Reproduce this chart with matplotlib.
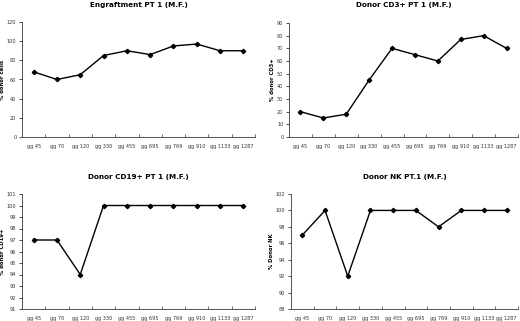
import matplotlib.pyplot as plt
import numpy as np

# ---------------------------------------Datos---------------------------------------
giorni = ["gg 45", "gg 70", "gg 120", "gg 330", "gg 455", "gg 695", "gg 769", "gg 910", "gg 1133", "gg 1287"]

engraftment = [68, 60, 65, 85, 90, 86, 95, 97, 90, 90]
cd3 = [20, 15, 18, 45, 70, 65, 60, 77, 80, 70]
cd19 = [97, 97, 94, 100, 100, 100, 100, 100, 100, 100]
nk = [97, 100, 92, 100, 100, 100, 98, 100, 100, 100]

W, H = 520, 321

pannelli = [
    # (titolo, ylabel, dati, ylim, step, box pixel: left, right, top, bottom)
    ("Engraftment PT 1 (M.F.)", "% donor cells", engraftment, (0, 120), 20, (22, 255, 22, 137)),
    ("Donor CD3+ PT 1 (M.F.)", "% donor CD3+", cd3, (0, 90), 10, (289, 518, 23, 137)),
    ("Donor CD19+ PT 1 (M.F.)", "% donor CD19+", cd19, (91, 101), 1, (22, 255, 194, 309)),
    ("Donor NK PT.1 (M.F.)", "% Donor NK", nk, (88, 102), 2, (291, 518, 194, 309)),
]

fig = plt.figure(figsize=(W / 100, H / 100), dpi=100)
fig.patch.set_facecolor("white")

for titolo, ylab, dati, ylim, step, (l, r, t, b) in pannelli:
    ax = fig.add_axes([l / W, 1 - b / H, (r - l) / W, (b - t) / H])
    x = np.arange(len(giorni))
    ax.plot(x, dati, color="black", lw=1.0, marker="D", ms=2.2, mfc="black", mec="black")
    ax.set_xlim(-0.5, len(giorni) - 0.5)
    ax.set_ylim(*ylim)
    ax.set_yticks(np.arange(ylim[0], ylim[1] + step / 2, step))
    ax.set_xticks(x)
    ax.set_xticklabels(giorni)
    ax.set_xticks(np.arange(len(giorni) + 1) - 0.5, minor=True)
    ax.tick_params(axis="x", which="major", length=0, labelsize=3.6, pad=5, colors="#333333")
    ax.tick_params(axis="x", which="minor", length=2, width=0.6, direction="in", color="#555555")
    ax.tick_params(axis="y", length=2, width=0.6, labelsize=3.6, pad=2, colors="#333333")
    for lato in ["top", "right"]:
        ax.spines[lato].set_visible(False)
    for lato in ["left", "bottom"]:
        ax.spines[lato].set_linewidth(0.7)
        ax.spines[lato].set_color("#555555")
    ax.set_ylabel(ylab, fontsize=3.8, fontweight="bold", labelpad=1.5)
    fig.text((l + r) / 2 / W, 1 - (t - 17.5) / H, titolo, ha="center", va="center",
             fontsize=5.2, fontweight="bold")

fig.savefig("out.png", dpi=100, facecolor="white")
